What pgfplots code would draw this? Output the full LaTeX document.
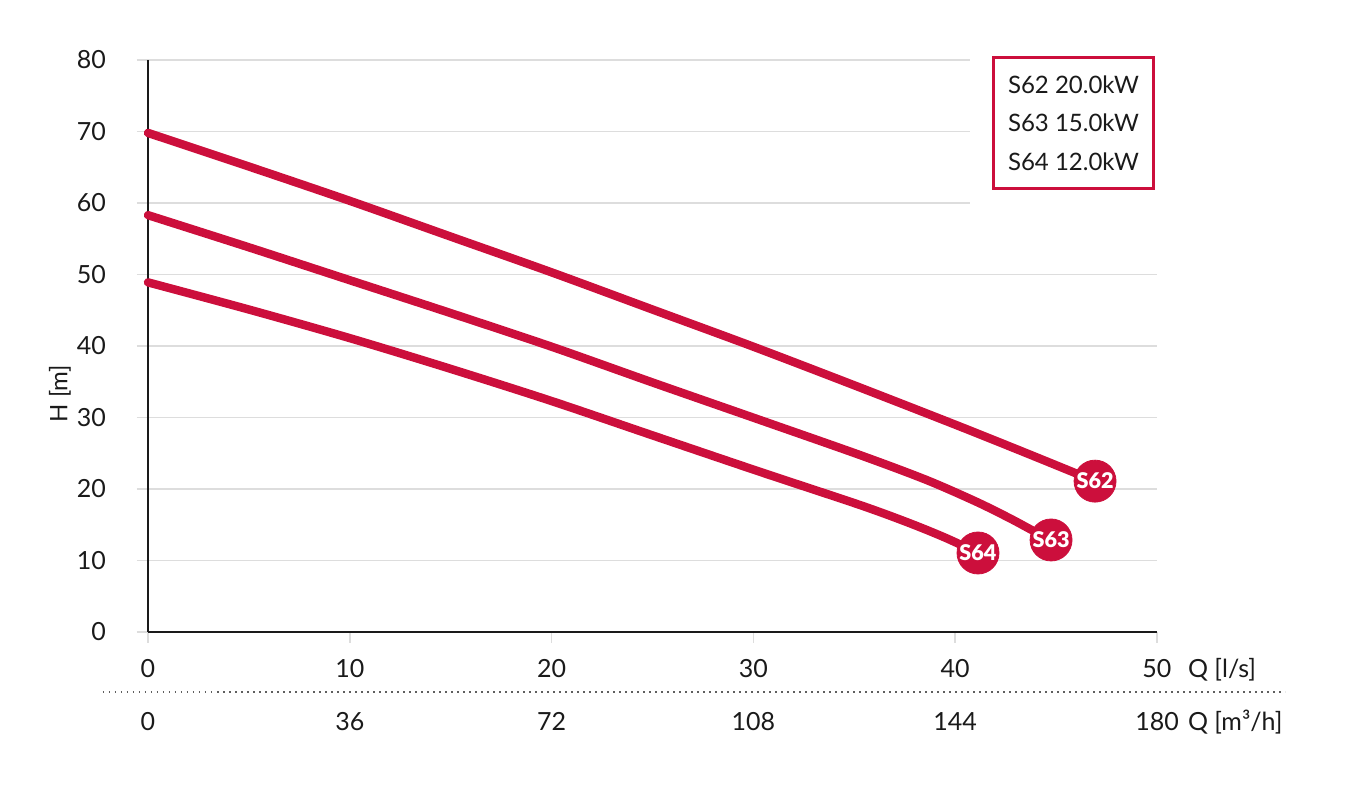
\documentclass[border=0pt]{standalone}
\usepackage{fontspec}
\setmainfont{Lato}
\newfontfamily\latoblack{Lato Black}
\usepackage{pgfplots}
\pgfplotsset{compat=1.18}
\definecolor{crim}{HTML}{CC0F3C}
\definecolor{gridc}{HTML}{DDDDDD}
\definecolor{txt}{HTML}{1A1A1A}
\begin{document}
\begin{tikzpicture}
\begin{axis}[
 scale only axis, width=504.5pt, height=286pt,
 xmin=0, xmax=50, ymin=0, ymax=80,
 axis x line=bottom, axis y line=left,
 axis line style={draw=txt, line width=1pt, -},
 xtick={0,10,...,50}, ytick={0,10,...,80},
 tick align=outside, major tick length=5.5pt,
 tick style={draw=gridc, line width=0.75pt},
 ymajorgrids, grid style={draw=gridc, line width=0.75pt},
 ticklabel style={font=\fontsize{12.5}{14}\selectfont, text=txt},
 /pgf/number format/assume math mode=true,
 xticklabel style={anchor=base, yshift=-17pt},
 yticklabel style={anchor=east, xshift=-12pt},
 ylabel={H [m]},
 ylabel style={at={(rel axis cs:0,0.417)}, anchor=center, yshift=44pt, font=\fontsize{12}{14}\selectfont, text=txt},
 clip=false,
]
\fill[white] (axis cs:40.75,59) rectangle (axis cs:50.2,81);
\addplot[crim, line width=4.2pt, line cap=round, smooth, tension=0.5] coordinates {
 (0,69.8) (5,65.1) (10,60.3) (15,55.3) (20,50.3) (25,45.1) (30,39.9) (35,34.5) (40,29.0) (43.54,25.0) (46.93,21.1)};
\addplot[crim, line width=4.2pt, line cap=round, smooth, tension=0.5] coordinates {
 (0,58.3) (5,53.8) (10,49.2) (15,44.6) (20,39.9) (25,34.9) (30.33,29.65) (35.28,24.75) (38.58,21.26) (41.06,18.2) (42.71,15.9) (44.03,13.9) (44.75,12.87)};
\addplot[crim, line width=4.2pt, line cap=round, smooth, tension=0.5] coordinates {
 (0,48.9) (5,45.1) (10,41.1) (15,36.8) (20,32.3) (25,27.5) (30.33,22.4) (35.28,17.76) (37.76,15.2) (39.58,13.1) (41.13,11.05)};
\addplot[crim, only marks, mark=*, mark size=10.5pt, mark options={draw=crim, fill=crim},
 point meta=explicit symbolic, nodes near coords,
 nodes near coords style={anchor=center, text=white, font=\latoblack\fontsize{10.8}{12}\selectfont}]
 coordinates {(46.93,21.1)[S62] (44.75,12.87)[S63] (41.13,11.05)[S64]};
\node[draw=crim, line width=1.5pt, fill=white, anchor=north east, minimum width=80pt, minimum height=65.5pt,
 align=left, font=\fontsize{12}{19.25}\selectfont, text=txt] at (rel axis cs:1,1) [xshift=-1pt, yshift=2pt]
 {S62 20.0kW\\S63 15.0kW\\S64 12.0kW};
\node[anchor=base west, font=\fontsize{12.5}{14}\selectfont, text=txt] at (rel axis cs:1,0) [xshift=12pt, yshift=-23pt] {Q [l/s]};
\node[anchor=base west, font=\fontsize{12.5}{14}\selectfont, text=txt] at (rel axis cs:1,0) [xshift=12pt, yshift=-49.3pt] {Q [m³/h]};
\node[anchor=base, font=\fontsize{12.5}{14}\selectfont, text=txt] at (axis cs:0,0) [yshift=-49.3pt] {0};
\node[anchor=base, font=\fontsize{12.5}{14}\selectfont, text=txt] at (axis cs:10,0) [yshift=-49.3pt] {36};
\node[anchor=base, font=\fontsize{12.5}{14}\selectfont, text=txt] at (axis cs:20,0) [yshift=-49.3pt] {72};
\node[anchor=base, font=\fontsize{12.5}{14}\selectfont, text=txt] at (axis cs:30,0) [yshift=-49.3pt] {108};
\node[anchor=base, font=\fontsize{12.5}{14}\selectfont, text=txt] at (axis cs:40,0) [yshift=-49.3pt] {144};
\node[anchor=base, font=\fontsize{12.5}{14}\selectfont, text=txt] at (axis cs:50,0) [yshift=-49.3pt] {180};
\draw[txt!70, line width=0.75pt, dash pattern=on 0.75pt off 2.25pt] (rel axis cs:0,0) ++(-22.5pt,-30pt) -- ++(591pt,0);
\end{axis}
\pgfresetboundingbox
\path (-74pt,-79.5pt) rectangle (603pt,316pt);
\end{tikzpicture}
\end{document}
